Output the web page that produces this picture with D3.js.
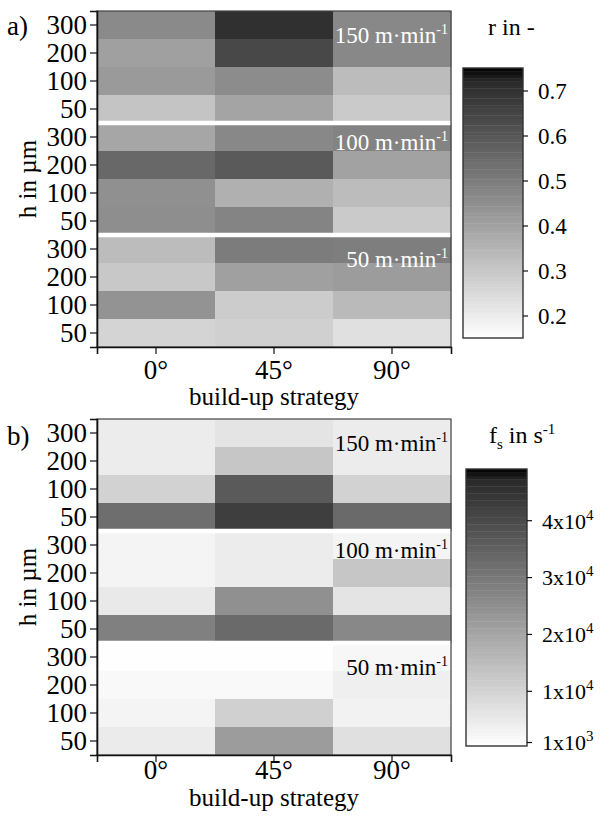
<!DOCTYPE html>
<html>
<head>
<meta charset="utf-8">
<script src="https://cdn.jsdelivr.net/npm/d3@7"></script>
</head>
<body style="margin:0;background:#fff">
<div id="chart"></div>
<script>
var speeds = ["150", "100", "50"];
var heights = ["300", "200", "100", "50"];
var strategies = ["0°", "45°", "90°"];

// r in -, per speed: [strategy][height 300,200,100,50]
var r150 = [[0.463, 0.404, 0.420, 0.308], [0.704, 0.640, 0.458, 0.394], [0.468, 0.468, 0.329, 0.292]];
var r100 = [[0.388, 0.554, 0.447, 0.452], [0.468, 0.592, 0.361, 0.479], [0.482, 0.399, 0.329, 0.292]];
var r50  = [[0.329, 0.297, 0.439, 0.265], [0.501, 0.404, 0.286, 0.276], [0.495, 0.415, 0.335, 0.233]];

// f_s in s^-1
var fs150 = [[4470, 4470, 10170, 32090], [6220, 12800, 36480, 42615], [4470, 4470, 10170, 32970]];
var fs100 = [[2710, 2710, 5120, 28140], [4470, 4470, 24640, 32970], [2710, 12800, 6220, 26390]];
var fs50  = [[520, 1620, 2710, 4690], [520, 1620, 10600, 22000], [2050, 3810, 3150, 7100]];

var rTicks = [0.2, 0.3, 0.4, 0.5, 0.6, 0.7];
var fsTicks = [1000, 10000, 20000, 30000, 40000];
var rDomain = [0.15, 0.72, 0.75];
var fsDomain = [300, 47000, 49000];

var svg = d3.select("#chart").append("svg")
  .attr("width", 601)
  .attr("height", 816)
  .style("display", "block");

var rowKeys = [];
speeds.forEach(function(s) {
  heights.forEach(function(h) { rowKeys.push(s + "|" + h); });
});

function greyScale(dom) {
  return d3.scaleLinear().domain(dom).range(["#ffffff", "#2a2a2a", "#000000"]).clamp(true);
}

function drawPanel(o) {
  var g = svg.append("g");
  var x = d3.scaleBand().domain(strategies).range([97, 451]);
  var y = d3.scaleBand().domain(rowKeys).range([o.top, o.top + 336]);
  var color = greyScale(o.domain);
  var bottom = o.top + 336;

  var cells = [];
  speeds.forEach(function(s, si) {
    strategies.forEach(function(c, ci) {
      heights.forEach(function(h, hi) {
        cells.push({key: s + "|" + h, s: c, v: o.values[si][ci][hi]});
      });
    });
  });

  g.selectAll("rect.cell")
    .data(cells)
    .join("rect")
    .attr("class", "cell")
    .attr("x", d => x(d.s))
    .attr("y", d => y(d.key))
    .attr("width", x.bandwidth() + 0.5)
    .attr("height", y.bandwidth() + 0.5)
    .attr("fill", d => color(d.v));

  // white separators between speed groups
  g.selectAll("line.sep")
    .data(speeds.slice(1))
    .join("line")
    .attr("class", "sep")
    .attr("x1", 97).attr("x2", 451)
    .attr("y1", d => y(d + "|300"))
    .attr("y2", d => y(d + "|300"))
    .attr("stroke", "#fff")
    .attr("stroke-width", 4.5);

  g.append("rect")
    .attr("x", 97).attr("y", o.top)
    .attr("width", 354).attr("height", 336)
    .attr("fill", "none")
    .attr("stroke", "#444")
    .attr("stroke-width", 1.2);

  // speed labels
  g.selectAll("text.speed")
    .data(speeds)
    .join("text")
    .attr("class", "speed")
    .attr("x", 448)
    .attr("y", (d, i) => y(d + "|300") + y.bandwidth() / 2 + [18, 13, 18][i])
    .attr("text-anchor", "end")
    .style("font-size", "23px")
    .style("fill", o.labelColor)
    .each(function(d) {
      var t = d3.select(this);
      t.append("tspan").text(d + " m·min");
      t.append("tspan").attr("dy", -9).style("font-size", "14px").text("-1");
    });

  var ya = g.append("g")
    .attr("transform", "translate(97,0)")
    .call(d3.axisLeft(y).tickSize(7).tickPadding(3).tickFormat(d => d.split("|")[1]));
  ya.select(".domain").attr("stroke", "#111").attr("stroke-width", 1.6);
  ya.selectAll(".tick line").attr("stroke", "#111").attr("stroke-width", 1.2);
  ya.selectAll(".tick text").style("font-size", "27px").attr("dy", "0.34em");

  var xa = g.append("g")
    .attr("transform", "translate(0," + bottom + ")")
    .call(d3.axisBottom(x).tickSize(7));
  xa.select(".domain").attr("stroke", "#111").attr("stroke-width", 1.6);
  xa.selectAll(".tick line").attr("stroke", "#111").attr("stroke-width", 1.2);
  xa.selectAll(".tick text")
    .attr("y", o.tickBase)
    .attr("dy", null)
    .style("font-size", "27px");

  g.append("text")
    .attr("x", 274).attr("y", bottom + o.titleBase)
    .attr("text-anchor", "middle")
    .style("font-size", "25px")
    .text("build-up strategy");

  g.append("text")
    .attr("transform", "translate(36," + (o.top + 168) + ") rotate(-90)")
    .attr("text-anchor", "middle")
    .style("font-size", "25px")
    .text("h in µm");

  g.append("text")
    .attr("x", 7).attr("y", o.top + o.letterBase)
    .style("font-size", "27px")
    .text(o.letter);

  // colour bar
  var cb = o.cb;
  var cy = d3.scaleLinear().domain([o.domain[0], o.domain[2]]).range([cb.y1, cb.y0]);
  var n = 80;
  var steps = d3.range(n).map(function(i) {
    return o.domain[0] + (o.domain[2] - o.domain[0]) * i / n;
  });
  var stepH = (cb.y1 - cb.y0) / n;
  g.selectAll("rect.cb")
    .data(steps)
    .join("rect")
    .attr("class", "cb")
    .attr("x", cb.x).attr("width", cb.w)
    .attr("y", d => cy(d) - stepH)
    .attr("height", stepH + 0.4)
    .attr("fill", d => color(d + (o.domain[2] - o.domain[0]) / n / 2));
  g.append("rect")
    .attr("x", cb.x).attr("y", cb.y0)
    .attr("width", cb.w).attr("height", cb.y1 - cb.y0)
    .attr("fill", "none").attr("stroke", "#333").attr("stroke-width", 1.4);

  var ca = g.append("g")
    .attr("transform", "translate(" + (cb.x + cb.w) + ",0)")
    .call(d3.axisRight(cy).tickValues(o.ticks).tickSize(5).tickPadding(10).tickFormat(""));
  ca.select(".domain").remove();
  ca.selectAll(".tick line").attr("stroke", "#111").attr("stroke-width", 1.2);
  ca.selectAll(".tick text")
    .style("font-size", "23px").attr("dy", "0.36em")
    .each(o.tickText);

  var title = g.append("text")
    .attr("x", cb.tx).attr("y", cb.ty)
    .style("font-size", "24px");
  o.title(title);
}

drawPanel({
  top: 11,
  letter: "a)",
  letterBase: 24,
  tickBase: 32,
  titleBase: 58,
  domain: rDomain,
  values: [r150, r100, r50],
  labelColor: "#fff",
  ticks: rTicks,
  cb: {x: 463, w: 60, y0: 68, y1: 338, tx: 488, ty: 35},
  tickText: function(d) { d3.select(this).text(d3.format(".1f")(d)); },
  title: function(t) { t.text("r in -"); }
});

drawPanel({
  top: 419,
  letter: "b)",
  letterBase: 26,
  tickBase: 24,
  titleBase: 51,
  domain: fsDomain,
  values: [fs150, fs100, fs50],
  labelColor: "#000",
  ticks: fsTicks,
  cb: {x: 466, w: 61, y0: 469, y1: 746, tx: 489, ty: 443},
  tickText: function(d) {
    var e = Math.floor(Math.log10(d));
    var m = Math.round(d / Math.pow(10, e));
    var t = d3.select(this).text(null).style("font-size", "22px");
    t.append("tspan").text(m + "x10");
    t.append("tspan").attr("dy", -9).style("font-size", "15px").text(e);
  },
  title: function(t) {
    t.append("tspan").text("f");
    t.append("tspan").attr("dy", 6).style("font-size", "15px").text("s");
    t.append("tspan").attr("dy", -6).text(" in s");
    t.append("tspan").attr("dy", -9).style("font-size", "15px").text("-1");
  }
});

// axis groups carry font-family="sans-serif"; replace everywhere with one name
svg.selectAll("g").attr("font-family", null);
svg.selectAll("text").style("font-family", "'Liberation Serif'");
</script>
</body>
</html>
